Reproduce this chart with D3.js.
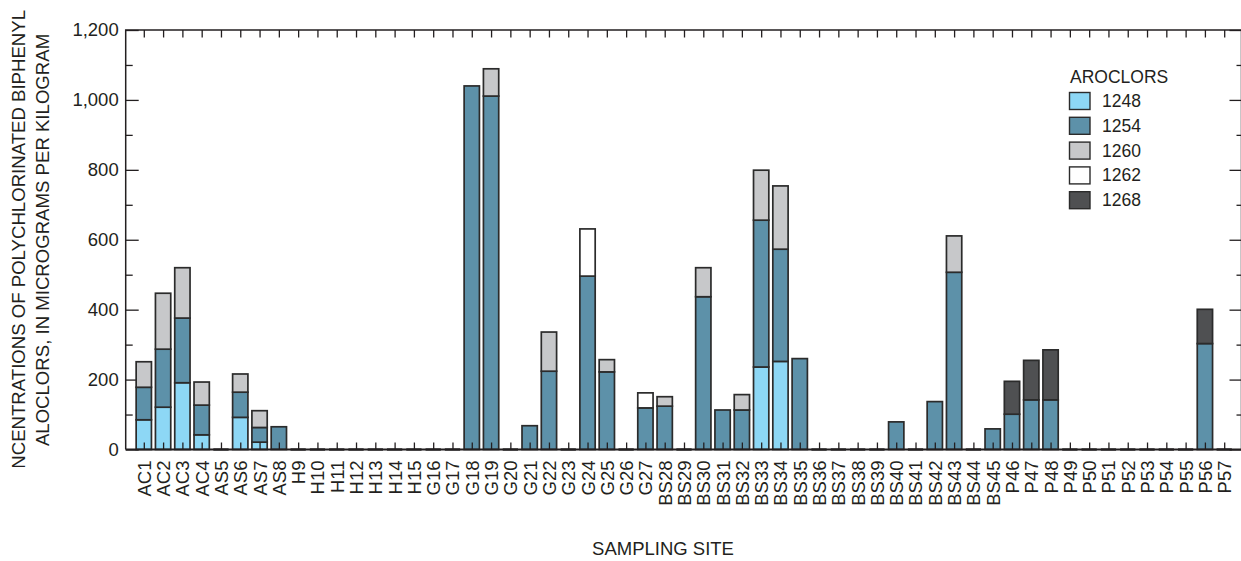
<!DOCTYPE html>
<html>
<head>
<meta charset="utf-8">
<script src="https://cdn.jsdelivr.net/npm/d3@7"></script>
<style>
  body { margin: 0; background: #fff; }
  svg { display: block; font-family: "Liberation Sans", Arial, sans-serif; }
</style>
</head>
<body>
<div id="main"></div>
<script>
const sites = [
  "AC1", "AC2", "AC3", "AC4", "AS5", "AS6", "AS7", "AS8",
  "H9", "H10", "H11", "H12", "H13", "H14", "H15",
  "G16", "G17", "G18", "G19", "G20", "G21", "G22", "G23", "G24", "G25", "G26", "G27",
  "BS28", "BS29", "BS30", "BS31", "BS32", "BS33", "BS34", "BS35", "BS36", "BS37", "BS38",
  "BS39", "BS40", "BS41", "BS42", "BS43", "BS44", "BS45",
  "P46", "P47", "P48", "P49", "P50", "P51", "P52", "P53", "P54", "P55", "P56", "P57"
];

const aroclors = ["1248", "1254", "1260", "1262", "1268"];

//            AC1..AS8                         H9..H15              G16..G27                                            BS28..BS45                                                          P46..P57
const a1248 = [85, 121, 191, 42, 0, 92, 21, 0,  0, 0, 0, 0, 0, 0, 0,  0, 0, 0, 0, 0, 0, 0, 0, 0, 0, 0, 0,             0, 0, 0, 0, 0, 236, 252, 0, 0, 0, 0, 0, 0, 0, 0, 0, 0, 0,            0, 0, 0, 0, 0, 0, 0, 0, 0, 0, 0, 0];
const a1254 = [93, 166, 185, 85, 0, 72, 42, 65, 0, 0, 0, 0, 0, 0, 0,  0, 0, 1040, 1011, 0, 68, 224, 0, 496, 222, 0, 119, 124, 0, 437, 113, 113, 420, 321, 260, 0, 0, 0, 0, 79, 0, 137, 507, 0, 59, 101, 142, 142, 0, 0, 0, 0, 0, 0, 0, 303, 0];
const a1260 = [73, 160, 144, 66, 0, 52, 48, 0,  0, 0, 0, 0, 0, 0, 0,  0, 0, 0, 78, 0, 0, 112, 0, 0, 35, 0, 0,          27, 0, 83, 0, 44, 143, 181, 0, 0, 0, 0, 0, 0, 0, 0, 104, 0, 0,      0, 0, 0, 0, 0, 0, 0, 0, 0, 0, 0, 0];
const a1262 = [0, 0, 0, 0, 0, 0, 0, 0,          0, 0, 0, 0, 0, 0, 0,  0, 0, 0, 0, 0, 0, 0, 0, 135, 0, 0, 43,           0, 0, 0, 0, 0, 0, 0, 0, 0, 0, 0, 0, 0, 0, 0, 0, 0, 0,                 0, 0, 0, 0, 0, 0, 0, 0, 0, 0, 0, 0];
const a1268 = [0, 0, 0, 0, 0, 0, 0, 0,          0, 0, 0, 0, 0, 0, 0,  0, 0, 0, 0, 0, 0, 0, 0, 0, 0, 0, 0,              0, 0, 0, 0, 0, 0, 0, 0, 0, 0, 0, 0, 0, 0, 0, 0, 0, 0,                 94, 113, 143, 0, 0, 0, 0, 0, 0, 0, 98, 0];

const majorTicks = [0, 200, 400, 600, 800, 1000, 1200];
const minorTicks = [100, 300, 500, 700, 900, 1100];

const colors = ["#8dd7f5", "#5d91a9", "#c7c8ca", "#ffffff", "#4f5052"];

class GraficoEmpilhado {
  constructor(config) {
    this.config = config;
    this.svg = null;
    this.x = null;
    this.y = null;
    this.linhas = sites.map((s, i) => ({
      site: s, "1248": a1248[i], "1254": a1254[i], "1260": a1260[i], "1262": a1262[i], "1268": a1268[i]
    }));
    this.createSvg();
  }

  createSvg() {
    this.svg = d3.select(this.config.div)
      .append("svg")
      .attr("width", this.config.width)
      .attr("height", this.config.height);
  }

  createScales() {
    const c = this.config;
    this.x = d3.scalePoint().domain(sites).range([c.firstX, c.lastX]);
    this.y = d3.scaleLinear().domain([0, 1200]).range([c.bottom, c.top]);
    this.color = d3.scaleOrdinal().domain(aroclors).range(colors);
  }

  createAxis() {
    const c = this.config;
    const ink = "#231f20";

    const styleAxis = g => {
      g.select(".domain").remove();
      g.selectAll(".tick line").attr("stroke", ink).attr("stroke-width", 1.3);
      g.selectAll("text").attr("fill", ink).attr("font-size", 18.5)
        .attr("font-family", "'Liberation Sans', Arial, sans-serif");
    };

    // left, with labels
    this.svg.append("g")
      .attr("transform", `translate(${c.left},0)`)
      .call(d3.axisLeft(this.y).tickValues(majorTicks).tickSize(-13).tickPadding(7).tickFormat(d3.format(",")))
      .call(styleAxis);
    this.svg.append("g")
      .attr("transform", `translate(${c.left},0)`)
      .call(d3.axisLeft(this.y).tickValues(minorTicks).tickSize(-7).tickFormat(""))
      .call(styleAxis);

    // right
    this.svg.append("g")
      .attr("transform", `translate(${c.right},0)`)
      .call(d3.axisRight(this.y).tickValues(majorTicks).tickSize(-12).tickFormat(""))
      .call(styleAxis);
    this.svg.append("g")
      .attr("transform", `translate(${c.right},0)`)
      .call(d3.axisRight(this.y).tickValues(minorTicks).tickSize(-5).tickFormat(""))
      .call(styleAxis);

    // top
    this.svg.append("g")
      .attr("transform", `translate(0,${c.top})`)
      .call(d3.axisTop(this.x).tickSize(-7.5).tickFormat(""))
      .call(styleAxis);

    // frame
    this.svg.append("path")
      .attr("d", `M${c.left},${c.bottom}V${c.top}H${c.right}V${c.bottom}`)
      .attr("fill", "none").attr("stroke", ink).attr("stroke-width", 1.5);
  }

  renderBars() {
    const c = this.config;
    const w = c.barWidth;
    const series = d3.stack().keys(aroclors)(this.linhas);

    this.svg.append("g")
      .selectAll("g")
      .data(series)
      .join("g")
      .attr("fill", d => this.color(d.key))
      .selectAll("rect")
      .data(d => d.filter(p => p[1] - p[0] > 0))
      .join("rect")
      .attr("x", d => this.x(d.data.site) - w / 2)
      .attr("y", d => this.y(d[1]))
      .attr("width", w)
      .attr("height", d => this.y(d[0]) - this.y(d[1]))
      .attr("stroke", "#2b2b2b")
      .attr("stroke-width", 1.7);

    // sites with nothing detected: flat mark on the baseline
    this.svg.append("g")
      .selectAll("line")
      .data(this.linhas.filter(d => aroclors.every(k => d[k] === 0)))
      .join("line")
      .attr("x1", d => this.x(d.site) - w / 2)
      .attr("x2", d => this.x(d.site) + w / 2)
      .attr("y1", this.y(0))
      .attr("y2", this.y(0))
      .attr("stroke", "#3a3a3a")
      .attr("stroke-width", 2.5);

    // bottom axis over the bars
    this.svg.append("g")
      .attr("transform", `translate(0,${c.bottom})`)
      .call(d3.axisBottom(this.x).tickSize(-7).tickPadding(0))
      .call(g => g.select(".domain").remove())
      .call(g => g.selectAll(".tick line").attr("stroke", "#231f20").attr("stroke-width", 1.3))
      .call(g => g.selectAll(".tick text")
        .attr("transform", "rotate(-90)")
        .attr("x", -11)
        .attr("y", 0)
        .attr("dy", "0.35em")
        .attr("text-anchor", "end")
        .attr("fill", "#231f20")
        .attr("font-size", 18.5)
        .attr("font-family", "'Liberation Sans', Arial, sans-serif"));

    this.svg.append("line")
      .attr("x1", c.left).attr("x2", c.right)
      .attr("y1", c.bottom).attr("y2", c.bottom)
      .attr("stroke", "#231f20").attr("stroke-width", 1.8);
  }

  renderTitles() {
    const ink = "#231f20";
    // the first title line is cut off at the bottom in the source figure
    this.svg.append("defs").append("clipPath").attr("id", "corte")
      .append("rect").attr("x", 0).attr("y", 0).attr("width", 80).attr("height", 467);

    const t = this.svg.append("g").attr("clip-path", "url(#corte)").attr("fill", ink);
    t.append("text")
      .attr("transform", "translate(25,10) rotate(-90)")
      .attr("text-anchor", "end")
      .attr("font-size", 18.6)
      .text("CONCENTRATIONS OF POLYCHLORINATED BIPHENYL");
    t.append("text")
      .attr("transform", "translate(49,240) rotate(-90)")
      .attr("text-anchor", "middle")
      .attr("font-size", 18.6)
      .text("ALOCLORS, IN MICROGRAMS PER KILOGRAM");

    this.svg.append("text")
      .attr("x", 663).attr("y", 555)
      .attr("text-anchor", "middle")
      .attr("fill", ink).attr("font-size", 18.5)
      .text("SAMPLING SITE");
  }

  renderLegend() {
    const ink = "#231f20";
    const g = this.svg.append("g").attr("transform", "translate(1069,0)");
    g.append("text").attr("x", 1).attr("y", 83)
      .attr("fill", ink).attr("font-size", 17.5).text("AROCLORS");

    const item = g.selectAll(".item")
      .data(aroclors)
      .join("g")
      .attr("class", "item")
      .attr("transform", (d, i) => `translate(0,${92.5 + i * 24.8})`);
    item.append("rect")
      .attr("x", 0.5).attr("y", 0)
      .attr("width", 20.5).attr("height", 17)
      .attr("fill", d => this.color(d))
      .attr("stroke", "#2b2b2b").attr("stroke-width", 1.4);
    item.append("text")
      .attr("x", 33).attr("y", 14.5)
      .attr("fill", ink).attr("font-size", 17.5)
      .text(d => d);
  }
}

function main() {
  let c = {div: "#main", width: 1241, height: 561, top: 30, bottom: 449.5, left: 125.7, right: 1241.5,
           firstX: 143.8, lastX: 1224.2, barWidth: 15.3};
  let a = new GraficoEmpilhado(c);
  a.createScales();
  a.createAxis();
  a.renderBars();
  a.renderTitles();
  a.renderLegend();
}

main();
</script>
</body>
</html>
